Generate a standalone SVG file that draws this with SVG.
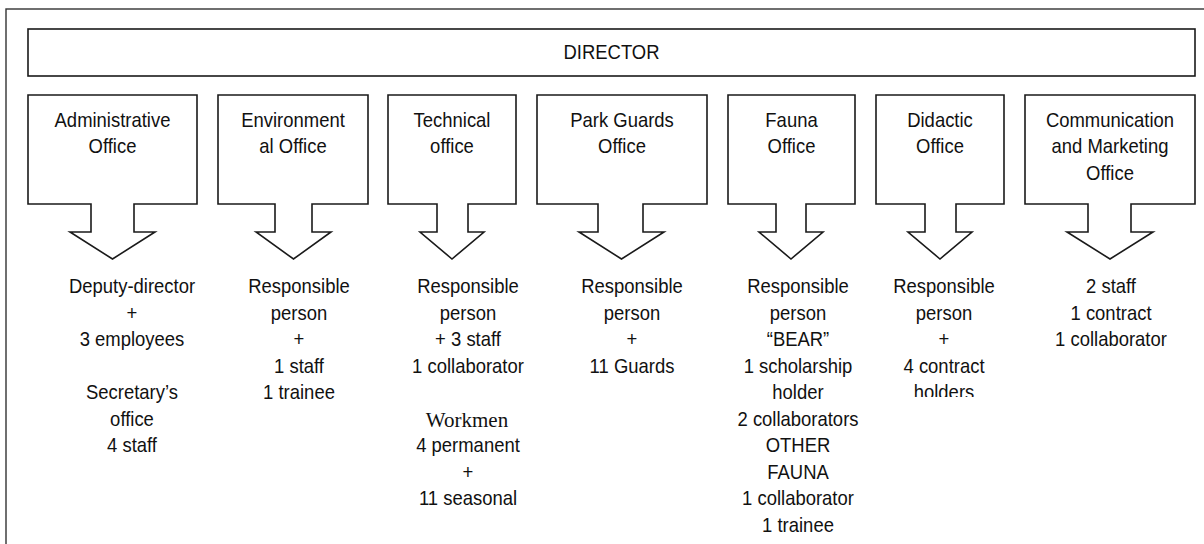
<svg xmlns="http://www.w3.org/2000/svg" width="1204" height="544" viewBox="0 0 1204 544">
<style>
.frame{fill:none;stroke:#333;stroke-width:1.4}
.shape{fill:#fff;stroke:#1a1a1a;stroke-width:1.6;stroke-linejoin:miter}
.t{font-family:"Liberation Sans",Arial,sans-serif;font-size:20.5px;fill:#111;text-anchor:middle}
.s{font-family:"Liberation Serif","Times New Roman",serif;font-size:21px;fill:#111;text-anchor:middle}
</style>
<defs>
<clipPath id="clipDid"><rect x="870" y="270" width="150" height="127"/></clipPath>
</defs>
<rect width="1204" height="544" fill="#fff"/>
<rect class="frame" x="6" y="9" width="1220" height="560"/>

<g id="director">
<rect class="shape" x="28" y="29" width="1167" height="47"/>
<text class="t" transform="translate(611.5 0) scale(0.9 1)"><tspan x="0" y="59">DIRECTOR</tspan></text>
</g>

<g id="connectors"></g>

<g id="administrative">
<path class="shape" d="M28 95H197V204H134V232H155L112.5 259L70 232H91V204H28Z"/>
<text class="t" transform="translate(112.5 0) scale(0.9 1)"><tspan x="0" y="127">Administrative</tspan><tspan x="0" y="153.5">Office</tspan></text>
<text class="t" transform="translate(132 0) scale(0.9 1)"><tspan x="0" y="293.5">Deputy-director</tspan><tspan x="0" y="320">+</tspan><tspan x="0" y="346.5">3 employees</tspan><tspan x="0" y="399.5">Secretary’s</tspan><tspan x="0" y="426">office</tspan><tspan x="0" y="452.5">4 staff</tspan></text>
</g>

<g id="environmental">
<path class="shape" d="M218 95H368V204H312V232H331L293.5 259L256 232H275V204H218Z"/>
<text class="t" transform="translate(293 0) scale(0.9 1)"><tspan x="0" y="127">Environment</tspan><tspan x="0" y="153.5">al Office</tspan></text>
<text class="t" transform="translate(299 0) scale(0.9 1)"><tspan x="0" y="293.5">Responsible</tspan><tspan x="0" y="320">person</tspan><tspan x="0" y="346.5">+</tspan><tspan x="0" y="373">1 staff</tspan><tspan x="0" y="399.5">1 trainee</tspan></text>
</g>

<g id="technical">
<path class="shape" d="M388 95H516V204H468V232H484L452 259L420 232H437V204H388Z"/>
<text class="t" transform="translate(452 0) scale(0.9 1)"><tspan x="0" y="127">Technical</tspan><tspan x="0" y="153.5">office</tspan></text>
<text class="t" transform="translate(468 0) scale(0.9 1)"><tspan x="0" y="293.5">Responsible</tspan><tspan x="0" y="320">person</tspan><tspan x="0" y="346.5">+ 3 staff</tspan><tspan x="0" y="373">1 collaborator</tspan><tspan x="0" y="452.5">4 permanent</tspan><tspan x="0" y="479">+</tspan><tspan x="0" y="505.5">11 seasonal</tspan></text>
<text class="s" x="467" y="426.5">Workmen</text>
</g>

<g id="parkguards">
<path class="shape" d="M537 95H707V204H643V232H664L621.5 259L579 232H598V204H537Z"/>
<text class="t" transform="translate(622 0) scale(0.9 1)"><tspan x="0" y="127">Park Guards</tspan><tspan x="0" y="153.5">Office</tspan></text>
<text class="t" transform="translate(632 0) scale(0.9 1)"><tspan x="0" y="293.5">Responsible</tspan><tspan x="0" y="320">person</tspan><tspan x="0" y="346.5">+</tspan><tspan x="0" y="373">11 Guards</tspan></text>
</g>

<g id="fauna">
<path class="shape" d="M728 95H855V204H806V232H823L791 259L759 232H776V204H728Z"/>
<text class="t" transform="translate(791.5 0) scale(0.9 1)"><tspan x="0" y="127">Fauna</tspan><tspan x="0" y="153.5">Office</tspan></text>
<text class="t" transform="translate(798 0) scale(0.9 1)"><tspan x="0" y="293.5">Responsible</tspan><tspan x="0" y="320">person</tspan><tspan x="0" y="346.5">“BEAR”</tspan><tspan x="0" y="373">1 scholarship</tspan><tspan x="0" y="399.5">holder</tspan><tspan x="0" y="426">2 collaborators</tspan><tspan x="0" y="452.5">OTHER</tspan><tspan x="0" y="479">FAUNA</tspan><tspan x="0" y="505.5">1 collaborator</tspan><tspan x="0" y="532">1 trainee</tspan></text>
</g>

<g id="didactic">
<path class="shape" d="M876 95H1004V204H956V232H972L940 259L908 232H925V204H876Z"/>
<text class="t" transform="translate(940 0) scale(0.9 1)"><tspan x="0" y="127">Didactic</tspan><tspan x="0" y="153.5">Office</tspan></text>
<g clip-path="url(#clipDid)">
<text class="t" transform="translate(944 0) scale(0.9 1)"><tspan x="0" y="293.5">Responsible</tspan><tspan x="0" y="320">person</tspan><tspan x="0" y="346.5">+</tspan><tspan x="0" y="373">4 contract</tspan><tspan x="0" y="399.5">holders</tspan></text>
</g>
</g>

<g id="communication">
<path class="shape" d="M1025 95H1195V204H1131V232H1153L1110 259L1067 232H1088V204H1025Z"/>
<text class="t" transform="translate(1110 0) scale(0.9 1)"><tspan x="0" y="127">Communication</tspan><tspan x="0" y="153.5">and Marketing</tspan><tspan x="0" y="180">Office</tspan></text>
<text class="t" transform="translate(1111 0) scale(0.9 1)"><tspan x="0" y="293.5">2 staff</tspan><tspan x="0" y="320">1 contract</tspan><tspan x="0" y="346.5">1 collaborator</tspan></text>
</g>
</svg>
